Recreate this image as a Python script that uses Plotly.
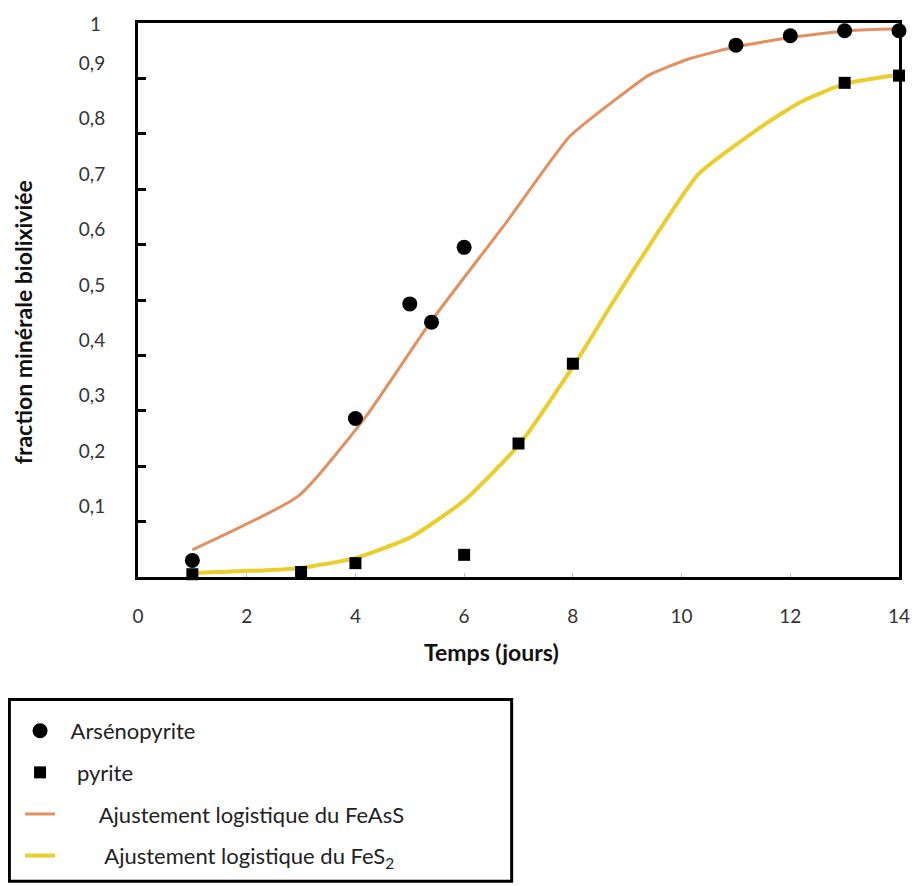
import plotly.graph_objects as go

# Data
ars_x = [1, 4, 5.0, 5.4, 6, 11, 12, 13, 14]
ars_y = [0.03, 0.286, 0.493, 0.46, 0.595, 0.96, 0.977, 0.986, 0.986]

pyr_x = [1, 3, 4, 6, 7, 8, 13, 14]
pyr_y = [0.005, 0.009, 0.025, 0.04, 0.241, 0.385, 0.892, 0.905]

fit_feass_x = [1, 2.96, 4.18, 5.38, 6.79, 7.94, 8.8, 9.4, 10.13, 11.0, 12.1, 13.1, 14]
fit_feass_y = [0.049, 0.147, 0.288, 0.46, 0.642, 0.795, 0.863, 0.906, 0.935, 0.957, 0.975, 0.986, 0.99]

fit_fes2_x = [1, 2.96, 4.0, 5.02, 6.0, 7.03, 8.07, 8.7, 9.34, 10.31, 11.53, 12.2, 13.0, 13.96]
fit_fes2_y = [0.007, 0.016, 0.034, 0.072, 0.138, 0.241, 0.39, 0.49, 0.588, 0.727, 0.817, 0.858, 0.89, 0.906]

x_ticks = [0, 2, 4, 6, 8, 10, 12, 14]
y_ticks = [0.1, 0.2, 0.3, 0.4, 0.5, 0.6, 0.7, 0.8, 0.9]
y_ticktext = ["0,1", "0,2", "0,3", "0,4", "0,5", "0,6", "0,7", "0,8", "0,9"]

FONT = "Lato"
NB = "\u00a0"

fig = go.Figure()

fig.add_trace(go.Scatter(
    x=fit_feass_x, y=fit_feass_y, mode="lines",
    line=dict(color="#E58F5E", width=3, shape="spline", smoothing=0.5),
    name=NB * 7 + "Ajustement logistique du FeAsS",
    legendgroup="c", legendrank=3, cliponaxis=False))
fig.add_trace(go.Scatter(
    x=fit_fes2_x, y=fit_fes2_y, mode="lines",
    line=dict(color="#EBCD2C", width=4, shape="spline", smoothing=0.5),
    name=NB * 8 + "Ajustement logistique du FeS<sub>2</sub>",
    legendgroup="d", legendrank=4, cliponaxis=False))
fig.add_trace(go.Scatter(
    x=ars_x, y=ars_y, mode="markers",
    marker=dict(symbol="circle", size=15, color="black"),
    name=NB * 2 + "Arsénopyrite", legendgroup="a", legendrank=1, cliponaxis=False))
fig.add_trace(go.Scatter(
    x=pyr_x, y=pyr_y, mode="markers",
    marker=dict(symbol="square", size=12, color="black"),
    name=NB * 3 + "pyrite", legendgroup="b", legendrank=2, cliponaxis=False))

fig.update_layout(
    width=914, height=886,
    margin=dict(l=130, r=16, t=13, b=317),
    paper_bgcolor="white", plot_bgcolor="white",
    font=dict(family=FONT, color="#222222", size=19),
    showlegend=True,
    legend=dict(
        x=-0.155, y=-0.240, xanchor="left", yanchor="top",
        traceorder="grouped", tracegroupgap=10,
        font=dict(family=FONT, size=22, color="#222222"),
        bgcolor="rgba(0,0,0,0)", borderwidth=0,
    ),
    xaxis=dict(
        range=[0, 14], tickvals=x_ticks, ticktext=[str(v) for v in x_ticks],
        showline=True, linecolor="black", linewidth=3, mirror=True,
        ticks="inside", ticklen=4, tickwidth=1, tickcolor="#bbbbbb",
        showgrid=False, zeroline=False, ticklabelstandoff=20,
        tickfont=dict(size=19, color="#333333"),
    ),
    yaxis=dict(
        range=[0, 1], tickvals=y_ticks, ticktext=y_ticktext,
        showline=True, linecolor="black", linewidth=3, mirror=True,
        ticks="inside", ticklen=8, tickwidth=3, tickcolor="black",
        showgrid=False, zeroline=False, ticklabelstandoff=26, ticklabelshift=-15,
        tickfont=dict(size=19, color="#333333"),
    ),
    annotations=[
        dict(text="1", x=-0.056, y=1, xref="paper", yref="y", showarrow=False,
             xanchor="center", yanchor="middle", font=dict(size=19, color="#333333")),
        dict(text="<b>fraction minérale biolixiviée</b>", x=-0.151, y=0.46,
             xref="paper", yref="paper", showarrow=False, textangle=-90,
             xanchor="center", yanchor="middle",
             font=dict(size=23, color="#111111")),
        dict(text="<b>Temps (jours)</b>", x=0.465, y=-0.136, xref="paper", yref="paper",
             showarrow=False, xanchor="center", yanchor="middle",
             font=dict(size=23, color="#111111")),
    ],
    shapes=[
        dict(type="rect", xref="paper", yref="paper",
             x0=-0.169, x1=0.491, y0=-0.549, y1=-0.221,
             line=dict(color="black", width=3), fillcolor="rgba(0,0,0,0)"),
    ],
)

fig.write_html("out.html")
